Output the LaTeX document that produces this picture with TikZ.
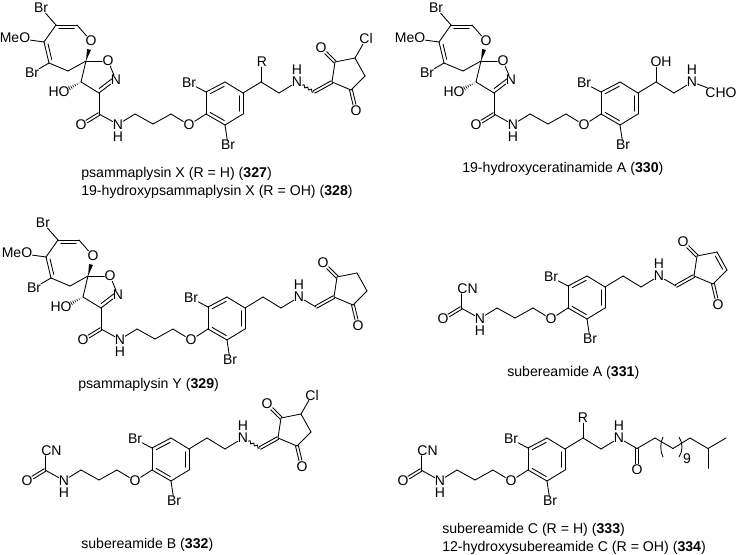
\documentclass[tikz,border=0pt]{standalone}
\usepackage{fontspec}
\setmainfont{Liberation Sans}
\usetikzlibrary{calc,decorations.pathmorphing}
\tikzset{
  atom/.style={inner sep=0pt,font=\fontsize{10.5}{10.5}\selectfont},
  caption/.style={inner sep=0pt,anchor=base west,font=\fontsize{10.6}{12}\selectfont},
  bondline/.style={line width=0.65pt,line cap=round,line join=round},
  wavy/.style={bondline,decorate,decoration={snake,amplitude=0.9pt,segment length=3.2pt}}
}
% inner line of a ring double bond, on the left of a -> b as seen on the page
\newcommand\inline[2]{\draw[bondline] ($(#1)!.13!(#2)!2.6pt!90:(#2)$) -- ($(#1)!.87!(#2)!2.6pt!90:(#2)$);}
% two parallel lines, the far end stopping short of an atom label
\newcommand\twolines[3]{%
  \draw[bondline,shorten >=#3] ($(#1)!1.1pt!90:(#2)$) -- ($(#2)!1.1pt!-90:(#1)$);
  \draw[bondline,shorten >=#3] ($(#1)!1.1pt!-90:(#2)$) -- ($(#2)!1.1pt!90:(#1)$);}
\newcommand\bonds[1]{\foreach \p/\q in {#1} {\draw[bondline] (\p) -- (\q);}}
% chain from the amide carbon through the dibromoaryl ring
\newcommand\chainfrag{%
  \coordinate (am) at (99,114);
  \node[atom] (amO) at (81,125) {O};
  \node[atom] (amN) at (118,124.5) {N};
  \node[atom] (amH) at (118,136.5) {H};
  \coordinate (p1) at (135,114);
  \coordinate (p2) at (153,124);
  \coordinate (p3) at (171,114);
  \node[atom] (eth) at (189,125) {O};
  \coordinate (r1) at (206,114);
  \coordinate (r2) at (206,92);
  \coordinate (r3) at (225,82);
  \coordinate (r4) at (243,93);
  \coordinate (r5) at (243,114);
  \coordinate (r6) at (225,125);
  \node[atom] (brA) at (189,83) {Br};
  \node[atom] (brB) at (228,145) {Br};
  \bonds{amN/am,amN/p1,p1/p2,p2/p3,p3/eth,eth/r1,r1/r2,r2/r3,r3/r4,r4/r5,r5/r6,r6/r1,r2/brA,r6/brB}
  \twolines{am}{amO}{5pt}
  \inline{r3}{r2}\inline{r5}{r4}\inline{r1}{r6}
}
% spiro bromo-oxepine and isoxazoline
\newcommand\corefrag{%
  \node[atom] (brC) at (41,8) {Br};
  \coordinate (s1) at (56,25);
  \coordinate (s2) at (77,25);
  \node[atom] (oxO) at (91,41) {O};
  \coordinate (sp) at (86,61);
  \coordinate (s5) at (68,71);
  \coordinate (s6) at (49,63);
  \coordinate (s7) at (44,42);
  \node[atom] (meo) at (15,38) {MeO};
  \node[atom] (brD) at (32,73) {Br};
  \node[atom] (isO) at (108,61) {O};
  \node[atom] (isN) at (116,80) {N};
  \coordinate (cn) at (99,93);
  \coordinate (cho) at (81,82);
  \node[atom] (hyd) at (59,92) {HO};
  \coordinate (wedgeEnd) at (89,49.5);
  \coordinate (hashEnd) at (69,88.5);
  \bonds{s1/brC,s1/s2,s2/oxO,s1/s7,s7/s6,s7/meo,s6/brD,s6/s5,s5/sp,sp/isO,isO/isN,isN/cn,cn/cho,cho/sp,cn/am}
  \inline{s2}{s1}\inline{s7}{s6}\inline{cn}{isN}
  \fill (sp) -- ($(wedgeEnd)!1.5pt!90:(sp)$) -- ($(wedgeEnd)!1.5pt!-90:(sp)$) -- cycle;
  \foreach \t in {.16,.32,.48,.64,.80,.96} {
    \draw[line width=0.45pt] ($(cho)!\t!(hashEnd)!{1.6pt*\t}!90:(hashEnd)$) -- ($(cho)!\t!(hashEnd)!{1.6pt*\t}!-90:(hashEnd)$);
  }
}
% cyanoformyl head
\newcommand\cnhead{%
  \node[atom] (cyano) at (105.5,94.5) {CN};
  \draw[bondline] (am) -- (am |- cyano.south);
}
% ethylamine linker on the aryl ring
\newcommand\linker{%
  \coordinate (la) at (261,82);
  \coordinate (lb) at (279,93);
  \node[atom] (lN) at (297,82) {N};
  \node[atom] (lH) at (297,69.5) {H};
  \bonds{r4/la,la/lb,lb/lN}
}
\newcommand\topsub[2]{%
  \node[atom] (sub) at (#1,62) {#2};
  \draw[bondline] (la) -- (la |- sub.south);
}
% methine and cyclopentane-dione
\newcommand\ringfrag{%
  \coordinate (ex) at (314,92);
  \coordinate (k0) at (332,82);
  \coordinate (k1) at (335,62);
  \coordinate (k2) at (355,58);
  \coordinate (k3) at (365,76);
  \coordinate (k4) at (351,90);
  \node[atom] (kA) at (321,48) {O};
  \node[atom] (kB) at (356,111) {O};
  \bonds{k0/k1,k1/k2,k2/k3,k3/k4,k4/k0}
  \twolines{k1}{kA}{5pt}
  \twolines{k4}{kB}{5pt}
  \twolines{ex}{k0}{0pt}
}
\newcommand\straightN{\draw[bondline] (lN) -- (ex);}
\newcommand\wavyN{\draw[wavy] (lN) -- (ex);}
\newcommand\chloro{%
  \node[atom] (cl) at (366,39) {Cl};
  \draw[bondline] (k2) -- (cl);
}
\begin{document}
\begin{tikzpicture}[x=0.75pt,y=-0.75pt]
\useasboundingbox (0,0) rectangle (738,555);
% 327 / 328
\begin{scope}[name prefix=a-]
  \chainfrag \corefrag \linker \topsub{262}{R} \ringfrag \wavyN \chloro
\end{scope}
\node[caption] (capA) at (81,177.5) {psammaplysin X (R = H) (\textbf{327})};
\node[caption] (capB) at (81,195.5) {19-hydroxypsammaplysin X (R = OH) (\textbf{328})};
% 330
\begin{scope}[name prefix=b-,shift={(395,0)}]
  \chainfrag \corefrag \linker \topsub{266}{OH}
  \node[atom] (fo) at (326,93) {CHO};
  \draw[bondline] (lN) -- (fo);
\end{scope}
\node[caption] (capC) at (462,173) {19-hydroxyceratinamide A (\textbf{330})};
% 329
\begin{scope}[name prefix=c-,shift={(2,215)}]
  \chainfrag \corefrag \linker \ringfrag \straightN
\end{scope}
\node[caption] (capD) at (78,388) {psammaplysin Y (\textbf{329})};
% 331
\begin{scope}[name prefix=d-,shift={(362,194)}]
  \chainfrag \cnhead \linker \ringfrag \straightN
  \inline{k3}{k2}
\end{scope}
\node[caption] (capE) at (507,377) {subereamide A (\textbf{331})};
% 332
\begin{scope}[name prefix=e-,shift={(-54,356)}]
  \chainfrag \cnhead \linker \ringfrag \wavyN \chloro
\end{scope}
\node[caption] (capF) at (81,548) {subereamide B (\textbf{332})};
% 333 / 334
\begin{scope}[name prefix=f-,shift={(322,356)}]
  \chainfrag \cnhead \linker \topsub{261}{R}
  \coordinate (t1) at (315,92.5);
  \node[atom] (tO) at (315,114) {O};
  \coordinate (t2) at (333,82);
  \coordinate (t3) at (351,92.5);
  \coordinate (t4) at (368,82);
  \coordinate (t5) at (386,92.5);
  \coordinate (t6) at (404,82);
  \coordinate (t7) at (386,112.5);
  \bonds{lN/t1,t1/t2,t2/t3,t3/t4,t4/t5,t5/t6,t5/t7}
  \twolines{t1}{tO}{5pt}
  \draw[bondline] (341,81) .. controls (338,87) and (338,95) .. (341,101);
  \draw[bondline] (357,81) .. controls (361,87) and (361,95) .. (357,101);
  \node[atom] (nine) at (365,103) {9};
\end{scope}
\node[caption] (capG) at (442,533) {subereamide C (R = H) (\textbf{333})};
\node[caption] (capH) at (442,551) {12-hydroxysubereamide C (R = OH) (\textbf{334})};
\end{tikzpicture}
\end{document}
